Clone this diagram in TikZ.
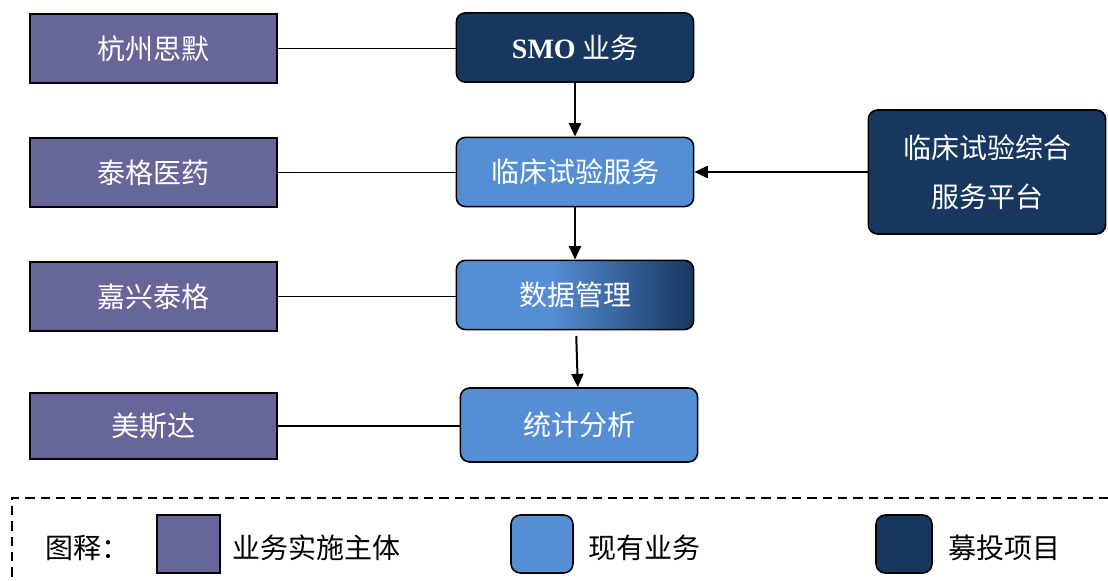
\documentclass[tikz,border=0pt]{standalone}
\usepackage{fontspec}
\setmainfont{Liberation Serif}
\newfontfamily\cjk{Noto Sans CJK SC}
\usepackage{xcolor}
\usetikzlibrary{arrows.meta, positioning, calc}
\definecolor{entity}{RGB}{102,102,153}
\definecolor{current}{RGB}{85,142,213}
\definecolor{project}{RGB}{23,55,94}
\pgfdeclarehorizontalshading{datafade}{100bp}{color(0bp)=(current); color(45bp)=(current); color(75bp)=(project); color(100bp)=(project)}

\begin{document}
\begin{tikzpicture}[x=0.75pt, y=-0.75pt,
    every node/.style={font=\cjk\fontsize{21}{37}\selectfont, inner sep=0pt},
    entbox/.style={draw, line width=1.2pt, fill=entity, text=white, minimum width=185pt, minimum height=52pt},
    curbox/.style={draw, line width=1.2pt, fill=current, text=white, rounded corners=7pt, minimum width=178pt, minimum height=52pt},
    projbox/.style={draw, line width=1.2pt, fill=project, text=white, rounded corners=7pt, minimum width=178pt, minimum height=52pt},
    link/.style={line width=1.1pt},
    flow/.style={line width=1.5pt, -{Triangle[length=10pt, width=9pt]}},
    legtext/.style={anchor=west, text=black}]
    \useasboundingbox (0,0) rectangle (1108,581);
    % business entities
    \node[entbox] (hz) at (153.5,48.5) {杭州思默};
    \node[entbox] (tg) at (153.5,172.5) {泰格医药};
    \node[entbox] (jx) at (153.5,296.5) {嘉兴泰格};
    \node[entbox, minimum height=49.5pt] (msd) at (153.5,426) {美斯达};
    % services
    \node[projbox] (smo) at (575,47.5) {\textrm{\bfseries SMO} 业务};
    \node[curbox] (trial) at (575,172) {临床试验服务};
    \node[curbox, fill=none, shading=datafade] (data) at (575,295) {数据管理};
    \node[curbox, minimum height=55.5pt] (stat) at (579,425) {统计分析};
    \node[projbox, minimum height=93pt, align=center] (platform) at (987,172) {\raisebox{-4pt}{临床试验综合}\\\raisebox{-4pt}{服务平台}};
    % connectors
    \draw[link] (hz.east) -- (hz.east -| smo.west);
    \draw[link] (tg.east) -- (tg.east -| trial.west);
    \draw[link] (jx.east) -- (jx.east -| data.west);
    \draw[link] (msd.east) -- (msd.east -| stat.west);
    \draw[flow] (smo) -- (trial);
    \draw[flow] (trial) -- (data);
    \draw[flow, shorten <=4pt] (data) -- (stat);
    \draw[flow] (platform) -- (trial);
    % legend
    \coordinate (lgcorner) at (12,498);
    \draw[dashed, line width=1.1pt, dash pattern=on 7pt off 4.5pt] (1108,498) -- (lgcorner) -- (12,581);
    \node[legtext] (lgtitle) at (45,548) {图释：};
    \node[entbox, minimum width=47pt, minimum height=43.5pt] (lgent) at (188.5,544) {};
    \node[legtext] (lgenttext) at (232,548) {业务实施主体};
    \node[curbox, minimum width=46.5pt, minimum height=43.5pt] (lgcur) at (542,544) {};
    \node[legtext] (lgcurtext) at (588,548) {现有业务};
    \node[projbox, minimum width=42pt, minimum height=43.5pt] (lgproj) at (904,544) {};
    \node[legtext] (lgprojtext) at (948,548) {募投项目};
\end{tikzpicture}
\end{document}
